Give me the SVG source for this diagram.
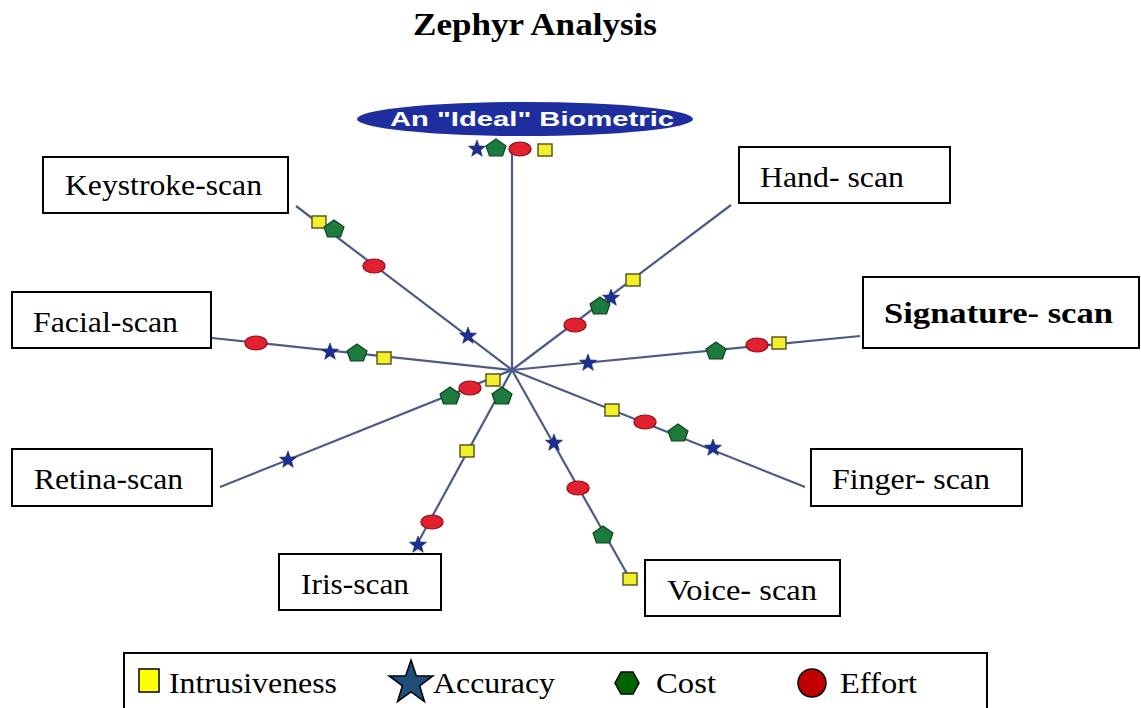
<svg xmlns="http://www.w3.org/2000/svg" width="1141" height="708" viewBox="0 0 1141 708">
<style>
.box{fill:#fff;stroke:#000;stroke-width:2}
.lbl{font-family:"Liberation Serif","Times New Roman",serif;font-size:30px;fill:#000}
.spoke{stroke:#4b5a86;stroke-width:2.2;fill:none}
.sq{fill:#f2f02a;stroke:#5c5a1e;stroke-width:1.5}
.pent{fill:#1c7a3c;stroke:#0f4420;stroke-width:1.2}
.oval{fill:#e3202e;stroke:#8c1018;stroke-width:1.2}
.star{fill:#1a2f8f;stroke:#13236a;stroke-width:0.6}
</style>
<defs>
<rect id="mSq" class="sq" x="-7" y="-6" width="14" height="12"/>
<polygon id="mPent" class="pent" points="0,-9 10,-2 6.5,8 -6.5,8 -10,-2"/>
<ellipse id="mOval" class="oval" rx="11" ry="7"/>
<polygon id="mStar" class="star" points="0,-9 2.23,-3.07 8.56,-2.78 3.61,1.17 5.29,7.28 0,3.8 -5.29,7.28 -3.61,1.17 -8.56,-2.78 -2.23,-3.07"/>
</defs>
<rect width="1141" height="708" fill="#fff"/>
<text x="413" y="35" font-family="'Liberation Serif','Times New Roman',serif" font-size="32" font-weight="bold" textLength="244" lengthAdjust="spacingAndGlyphs">Zephyr Analysis</text>

<g id="connectors">
<line class="spoke" x1="512" y1="153" x2="512" y2="370"/>
<line class="spoke" x1="296" y1="206" x2="512" y2="370"/>
<line class="spoke" x1="212" y1="338" x2="512" y2="370"/>
<line class="spoke" x1="220" y1="487" x2="512" y2="370"/>
<line class="spoke" x1="415" y1="548" x2="512" y2="370"/>
<line class="spoke" x1="630" y1="579" x2="512" y2="370"/>
<line class="spoke" x1="805" y1="487" x2="512" y2="370"/>
<line class="spoke" x1="860" y1="336" x2="512" y2="370"/>
<line class="spoke" x1="731" y1="205" x2="512" y2="370"/>
</g>

<g id="ideal">
<ellipse cx="525" cy="119" rx="168" ry="17" fill="#1f2e9e"/>
<text x="390" y="126" font-family="'Liberation Sans',Arial,sans-serif" font-size="20" font-weight="bold" fill="#fff" textLength="284" lengthAdjust="spacingAndGlyphs">An "Ideal" Biometric</text>
<use href="#mStar" x="477" y="149"/>
<use href="#mPent" x="496" y="148"/>
<use href="#mOval" x="520" y="149"/>
<use href="#mSq" x="545" y="150"/>
</g>

<g id="keystroke">
<rect class="box" x="43" y="157" width="245" height="56"/>
<text class="lbl" x="65" y="195" textLength="197" lengthAdjust="spacingAndGlyphs">Keystroke-scan</text>
<use href="#mSq" x="319" y="222"/>
<use href="#mPent" x="334" y="229"/>
<use href="#mOval" x="374" y="266"/>
<use href="#mStar" x="468" y="336"/>
</g>

<g id="facial">
<rect class="box" x="12" y="292" width="199" height="56"/>
<text class="lbl" x="33" y="332" textLength="145" lengthAdjust="spacingAndGlyphs">Facial-scan</text>
<use href="#mOval" x="256" y="343"/>
<use href="#mStar" x="330" y="352"/>
<use href="#mPent" x="357" y="353"/>
<use href="#mSq" x="384" y="358"/>
</g>

<g id="retina">
<rect class="box" x="12" y="449" width="200" height="57"/>
<text class="lbl" x="34" y="489" textLength="149" lengthAdjust="spacingAndGlyphs">Retina-scan</text>
<use href="#mStar" x="288" y="460"/>
<use href="#mPent" x="450" y="396"/>
<use href="#mOval" x="470" y="388"/>
<use href="#mSq" x="493" y="380"/>
</g>

<g id="iris">
<rect class="box" x="279" y="554" width="162" height="56"/>
<text class="lbl" x="301" y="594" textLength="108" lengthAdjust="spacingAndGlyphs">Iris-scan</text>
<use href="#mStar" x="418" y="545"/>
<use href="#mOval" x="432" y="522"/>
<use href="#mSq" x="467" y="451"/>
<use href="#mPent" x="502" y="396"/>
</g>

<g id="voice">
<rect class="box" x="645" y="560" width="195" height="56"/>
<text class="lbl" x="667" y="600" textLength="150" lengthAdjust="spacingAndGlyphs">Voice- scan</text>
<use href="#mStar" x="554" y="443"/>
<use href="#mOval" x="578" y="488"/>
<use href="#mPent" x="603" y="535"/>
<use href="#mSq" x="630" y="579"/>
</g>

<g id="finger">
<rect class="box" x="811" y="449" width="211" height="57"/>
<text class="lbl" x="832" y="489" textLength="158" lengthAdjust="spacingAndGlyphs">Finger- scan</text>
<use href="#mSq" x="612" y="410"/>
<use href="#mOval" x="645" y="422"/>
<use href="#mPent" x="678" y="433"/>
<use href="#mStar" x="713" y="448"/>
</g>

<g id="signature">
<rect class="box" x="863" y="277" width="276" height="71"/>
<text class="lbl" x="884" y="323" font-weight="bold" textLength="229" lengthAdjust="spacingAndGlyphs">Signature- scan</text>
<use href="#mStar" x="588" y="363"/>
<use href="#mPent" x="716" y="351"/>
<use href="#mOval" x="757" y="345"/>
<use href="#mSq" x="779" y="343"/>
</g>

<g id="hand">
<rect class="box" x="739" y="147" width="211" height="56"/>
<text class="lbl" x="760" y="187" textLength="144" lengthAdjust="spacingAndGlyphs">Hand- scan</text>
<use href="#mOval" x="575" y="325"/>
<use href="#mStar" x="611" y="298"/>
<use href="#mPent" x="600" y="306"/>
<use href="#mSq" x="633" y="280"/>
</g>

<g id="legend">
<rect class="box" x="124" y="653" width="863" height="60"/>
<rect x="139" y="669" width="20" height="23" fill="#ffff00" stroke="#000" stroke-width="1.5"/>
<text class="lbl" x="169" y="693" textLength="168" lengthAdjust="spacingAndGlyphs">Intrusiveness</text>
<polygon transform="translate(411,683)" points="0,-23 5.3,-7.3 21.9,-7.1 8.6,2.8 13.5,18.6 0,9 -13.5,18.6 -8.6,2.8 -21.9,-7.1 -5.3,-7.3" fill="#1f4e79" stroke="#000" stroke-width="1.5"/>
<text class="lbl" x="433" y="693" textLength="122" lengthAdjust="spacingAndGlyphs">Accuracy</text>
<polygon points="615,683 621,672 633,672 639,683 633,694 621,694" fill="#006400" stroke="#000" stroke-width="1.5"/>
<text class="lbl" x="656" y="693" textLength="60" lengthAdjust="spacingAndGlyphs">Cost</text>
<circle cx="812" cy="683" r="14" fill="#c00000" stroke="#000" stroke-width="1.5"/>
<text class="lbl" x="840" y="693" textLength="77" lengthAdjust="spacingAndGlyphs">Effort</text>
</g>
</svg>
